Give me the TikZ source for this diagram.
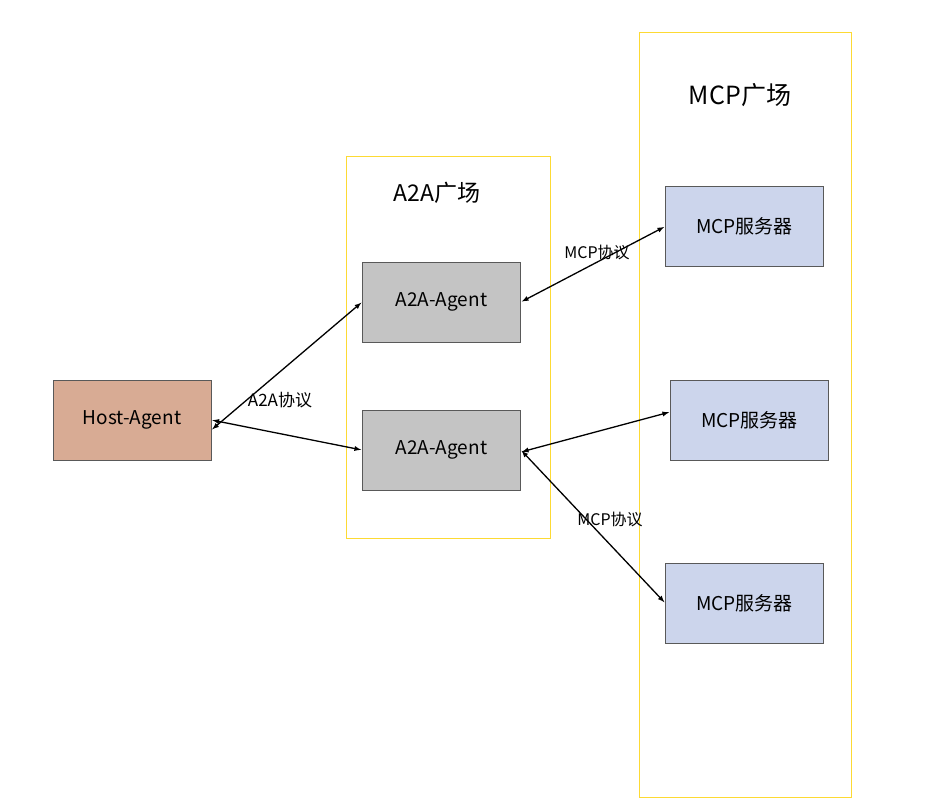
\documentclass[tikz,border=0pt]{standalone}
\usepackage{fontspec}
\setmainfont{Noto Sans CJK SC}
\begin{document}
\begin{tikzpicture}[x=1pt,y=-1pt,
  box/.style={draw=black!65,line width=0.8pt,minimum width=158pt,minimum height=80pt,inner sep=0pt,font=\fontsize{19}{22}\selectfont},
  zone/.style={draw=yellow!70!orange!80,line width=0.9pt},
  conn/.style={<->,>=latex,line width=1.3pt,shorten <=1pt,shorten >=1pt},
  lbl/.style={font=\fontsize{16}{18}\selectfont}]
\useasboundingbox (0,0) rectangle (942,800);
\fill[white] (0,0) rectangle (942,800);
\draw[zone] (639,32) rectangle (851,797);
\draw[zone] (346,156) rectangle (550,538);
\node[font=\fontsize{25}{28}\selectfont] (mt) at (740,95) {MCP广场};
\node[font=\fontsize{23}{26}\selectfont] (at) at (437,193) {A2A广场};
\definecolor{hostc}{HTML}{D8AB94}
\definecolor{agc}{HTML}{C4C4C4}
\definecolor{mcpc}{HTML}{CCD5EC}
\node[box,fill=hostc] (host) at (132,420) {Host-Agent};
\node[box,fill=agc] (a1) at (441.5,302) {A2A-Agent};
\node[box,fill=agc] (a2) at (441.5,450) {A2A-Agent};
\node[box,fill=mcpc] (m1) at (744.5,226.5) {MCP服务器};
\node[box,fill=mcpc] (m2) at (749.5,420) {MCP服务器};
\node[box,fill=mcpc] (m3) at (744.5,603) {MCP服务器};
\draw[conn] ([yshift=-10pt]host.east) -- (a1.west);
\draw[conn] (host.east) -- (a2.west);
\draw[conn] (a1.east) -- (m1.west);
\draw[conn] ([yshift=-2pt]a2.east) -- ([yshift=8pt]m2.west);
\draw[conn] (a2.east) -- (m3.west);
\node[lbl,font=\fontsize{17}{19}\selectfont] (l1) at (280,400) {A2A协议};
\node[lbl] (l2) at (597,252) {MCP协议};
\node[lbl] (l3) at (610,519) {MCP协议};
\end{tikzpicture}
\end{document}
